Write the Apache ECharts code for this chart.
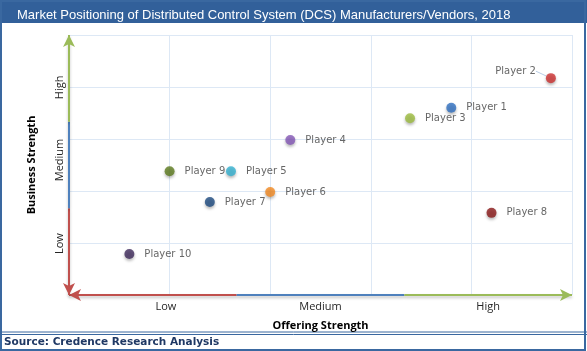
<!DOCTYPE html>
<html>
<head>
<meta charset="utf-8">
<script src="https://cdn.jsdelivr.net/npm/echarts@6/dist/echarts.min.js"></script>
<style>
  html, body { margin: 0; padding: 0; background: #fff; }
  #chart { width: 587px; height: 351px; }
</style>
</head>
<body>
<div id="chart"></div>
<script>
var players = ['Player 1', 'Player 2', 'Player 3', 'Player 4', 'Player 5',
               'Player 6', 'Player 7', 'Player 8', 'Player 9', 'Player 10'];
var offering = [3.8, 4.79, 3.39, 2.2, 1.61, 2.0, 1.4, 4.2, 1.0, 0.6];
var business = [3.6, 4.17, 3.4, 2.98, 2.38, 1.98, 1.79, 1.58, 2.38, 0.79];
var levels = ['Low', 'Medium', 'High'];

var dotColors = ['#2f6fc0', '#cc2f2f', '#9cbb3e', '#8458b6', '#33b0cf',
                 '#f28a22', '#1d4a80', '#8a1818', '#5c7a1e', '#3e2a5b'];
var bandColors = ['#c0504d', '#4f81bd', '#9bbb59'];

var myChart = echarts.init(document.getElementById('chart'));

// arrow segments along both axes (low band points back to origin)
var xSegs = [], ySegs = [];
for (var i = 0; i < 3; i++) {
  var a = i * 5 / 3, b = (i + 1) * 5 / 3;
  xSegs.push([
    { coord: [i == 0 ? b : a, 0], symbol: 'none' },
    { coord: [i == 0 ? a : b, 0], symbol: i == 1 ? 'none' : 'arrow',
      lineStyle: { color: bandColors[i] } }
  ]);
  ySegs.push([
    { coord: [0, i == 0 ? b : a], symbol: 'none' },
    { coord: [0, i == 0 ? a : b], symbol: i == 1 ? 'none' : 'arrow',
      lineStyle: { color: bandColors[i] } }
  ]);
}

var dots = players.map(function (p, i) {
  var item = {
    name: p,
    value: [offering[i], business[i]],
    itemStyle: { color: dotColors[i] }
  };
  if (p == 'Player 2') {
    item.label = { position: 'left', distance: 12 };
    item.labelLine = { show: true, lineStyle: { color: '#b8cde6', width: 1 } };
  }
  return item;
});

option = {
  animation: false,
  title: {
    text: 'Market Positioning of Distributed Control System (DCS) Manufacturers/Vendors, 2018',
    left: 12,
    top: 4,
    textStyle: { color: '#fff', fontSize: 13, fontWeight: 'normal', fontFamily: 'Liberation Sans' }
  },
  graphic: [
    { type: 'rect', z: -1, shape: { x: 0, y: 0, width: 587, height: 23 }, style: { fill: '#32609a' } },
    { type: 'rect', z: 10, shape: { x: 1, y: 1, width: 584, height: 349 },
      style: { fill: 'none', stroke: '#3a68a0', lineWidth: 2 } },
    { type: 'line', shape: { x1: 0, y1: 332, x2: 587, y2: 332 }, style: { stroke: '#3a68a0', lineWidth: 1 } },
    { type: 'line', shape: { x1: 0, y1: 334.5, x2: 587, y2: 334.5 }, style: { stroke: '#3a68a0', lineWidth: 1 } },
    { type: 'text', left: 4, top: 337,
      style: { text: 'Source: Credence Research Analysis', fill: '#1f3864',
               font: 'bold 10.5px "DejaVu Sans"' } }
  ],
  grid: { left: 69, right: 15, top: 35, bottom: 56 },
  xAxis: [
    {
      type: 'value', min: 0, max: 5, interval: 1,
      axisLine: { show: false }, axisTick: { show: false }, axisLabel: { show: false },
      splitLine: { show: true, lineStyle: { color: '#dde8f5' } }
    },
    {
      type: 'category', data: [
        { value: levels[0], textStyle: { padding: [0, 0, 0, 26] } },
        levels[1], levels[2]
      ],
      position: 'bottom',
      axisLine: { show: false }, axisTick: { show: false }, splitLine: { show: false },
      axisLabel: { margin: 6, color: '#262626', fontSize: 11, fontFamily: 'Open Sans' },
      name: 'Offering Strength', nameLocation: 'middle', nameGap: 25,
      nameTextStyle: { color: '#000', fontSize: 11, fontWeight: 'bold', fontFamily: 'Open Sans' }
    }
  ],
  yAxis: [
    {
      type: 'value', min: 0, max: 5, interval: 1,
      axisLine: { show: false }, axisTick: { show: false }, axisLabel: { show: false },
      splitLine: { show: true, lineStyle: { color: '#dde8f5' } }
    },
    {
      type: 'category', data: [
        { value: levels[0], textStyle: { padding: [0, 0, 0, 16] } },
        { value: levels[1], textStyle: { padding: [0, 0, 0, 10] } },
        { value: levels[2], textStyle: { padding: [0, 18, 0, 0] } }
      ],
      position: 'left',
      axisLine: { show: false }, axisTick: { show: false }, splitLine: { show: false },
      axisLabel: { margin: 4, rotate: 90, color: '#262626', fontSize: 11, fontFamily: 'Open Sans' },
      name: 'Business Strength', nameLocation: 'middle', nameGap: 32, nameRotate: 90,
      nameTextStyle: { color: '#000', fontSize: 11, fontWeight: 'bold', fontFamily: 'Open Sans' }
    }
  ],
  series: [
    {
      type: 'scatter',
      symbolSize: 10,
      data: dots,
      itemStyle: { shadowBlur: 3, shadowOffsetY: 2, shadowColor: 'rgba(0,0,0,0.35)' },
      label: {
        show: true, position: 'right', distance: 10,
        formatter: '{b}', color: '#404040', fontSize: 10, fontFamily: 'DejaVu Sans'
      },
      labelLayout: function (params) {
        if (params.dataIndex == 1) return { dx: 2, dy: -7 };
        return {};
      },
      markLine: {
        silent: true,
        symbolSize: [9, 12],
        label: { show: false },
        lineStyle: { type: 'solid', width: 2, shadowBlur: 3, shadowOffsetY: 2, shadowColor: 'rgba(0,0,0,0.25)' },
        data: xSegs.concat(ySegs)
      }
    }
  ]
};

myChart.setOption(option);
</script>
</body>
</html>
